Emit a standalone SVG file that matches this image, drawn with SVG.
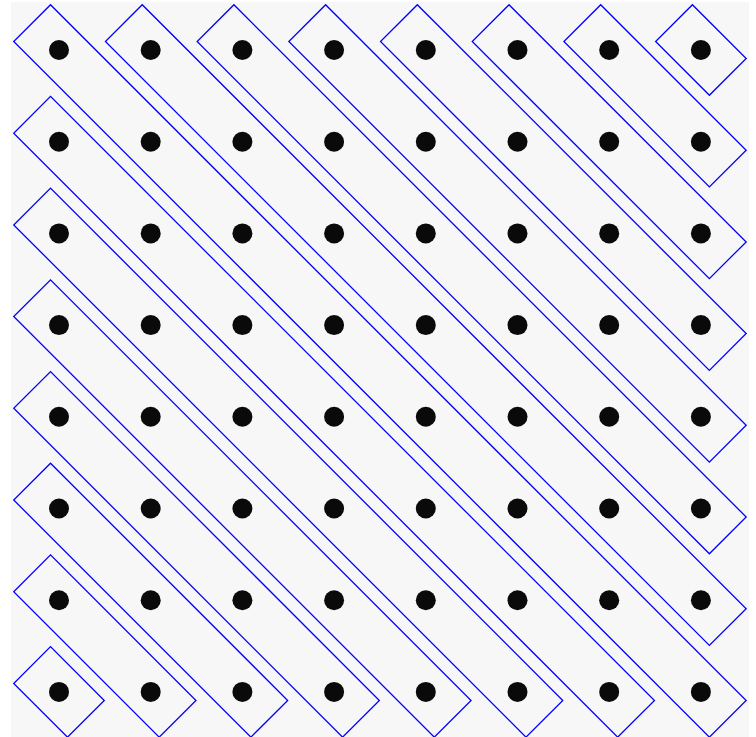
<svg xmlns="http://www.w3.org/2000/svg" width="756" height="737" viewBox="0 0 756 737">
<style>
.band{fill:none;stroke:#0000ff;stroke-width:1.3}
.dot{fill:#0a0a0a}
</style>
<rect x="0" y="0" width="756" height="737" fill="#ffffff"/>
<rect x="11" y="2" width="738" height="735" fill="#f7f7f7"/>
<g id="bands">
<g id="band-m7"><rect class="band" transform="translate(59,691.9) rotate(45)" x="-38" y="-26" width="76" height="52"/></g>
<g id="band-m6"><rect class="band" transform="translate(104.85,646.05) rotate(45)" x="-102.84" y="-26" width="205.68" height="52"/></g>
<g id="band-m5"><rect class="band" transform="translate(150.7,600.2) rotate(45)" x="-167.68" y="-26" width="335.36" height="52"/></g>
<g id="band-m4"><rect class="band" transform="translate(196.55,554.35) rotate(45)" x="-232.52" y="-26" width="465.04" height="52"/></g>
<g id="band-m3"><rect class="band" transform="translate(242.4,508.5) rotate(45)" x="-297.36" y="-26" width="594.72" height="52"/></g>
<g id="band-m2"><rect class="band" transform="translate(288.25,462.65) rotate(45)" x="-362.2" y="-26" width="724.4" height="52"/></g>
<g id="band-m1"><rect class="band" transform="translate(334.1,416.8) rotate(45)" x="-427.04" y="-26" width="854.08" height="52"/></g>
<g id="band-0"><rect class="band" transform="translate(379.95,370.95) rotate(45)" x="-491.88" y="-26" width="983.76" height="52"/></g>
<g id="band-p1"><rect class="band" transform="translate(425.8,325.1) rotate(45)" x="-427.04" y="-26" width="854.08" height="52"/></g>
<g id="band-p2"><rect class="band" transform="translate(471.65,279.25) rotate(45)" x="-362.2" y="-26" width="724.4" height="52"/></g>
<g id="band-p3"><rect class="band" transform="translate(517.5,233.4) rotate(45)" x="-297.36" y="-26" width="594.72" height="52"/></g>
<g id="band-p4"><rect class="band" transform="translate(563.35,187.55) rotate(45)" x="-232.52" y="-26" width="465.04" height="52"/></g>
<g id="band-p5"><rect class="band" transform="translate(609.2,141.7) rotate(45)" x="-167.68" y="-26" width="335.36" height="52"/></g>
<g id="band-p6"><rect class="band" transform="translate(655.05,95.85) rotate(45)" x="-102.84" y="-26" width="205.68" height="52"/></g>
<g id="band-p7"><rect class="band" transform="translate(700.9,50) rotate(45)" x="-38" y="-26" width="76" height="52"/></g>
</g>
<g id="dots">
<g id="r0"><circle class="dot" cx="59" cy="50" r="10"/><circle class="dot" cx="150.7" cy="50" r="10"/><circle class="dot" cx="242.4" cy="50" r="10"/><circle class="dot" cx="334.1" cy="50" r="10"/><circle class="dot" cx="425.8" cy="50" r="10"/><circle class="dot" cx="517.5" cy="50" r="10"/><circle class="dot" cx="609.2" cy="50" r="10"/><circle class="dot" cx="700.9" cy="50" r="10"/></g>
<g id="r1"><circle class="dot" cx="59" cy="141.7" r="10"/><circle class="dot" cx="150.7" cy="141.7" r="10"/><circle class="dot" cx="242.4" cy="141.7" r="10"/><circle class="dot" cx="334.1" cy="141.7" r="10"/><circle class="dot" cx="425.8" cy="141.7" r="10"/><circle class="dot" cx="517.5" cy="141.7" r="10"/><circle class="dot" cx="609.2" cy="141.7" r="10"/><circle class="dot" cx="700.9" cy="141.7" r="10"/></g>
<g id="r2"><circle class="dot" cx="59" cy="233.4" r="10"/><circle class="dot" cx="150.7" cy="233.4" r="10"/><circle class="dot" cx="242.4" cy="233.4" r="10"/><circle class="dot" cx="334.1" cy="233.4" r="10"/><circle class="dot" cx="425.8" cy="233.4" r="10"/><circle class="dot" cx="517.5" cy="233.4" r="10"/><circle class="dot" cx="609.2" cy="233.4" r="10"/><circle class="dot" cx="700.9" cy="233.4" r="10"/></g>
<g id="r3"><circle class="dot" cx="59" cy="325.1" r="10"/><circle class="dot" cx="150.7" cy="325.1" r="10"/><circle class="dot" cx="242.4" cy="325.1" r="10"/><circle class="dot" cx="334.1" cy="325.1" r="10"/><circle class="dot" cx="425.8" cy="325.1" r="10"/><circle class="dot" cx="517.5" cy="325.1" r="10"/><circle class="dot" cx="609.2" cy="325.1" r="10"/><circle class="dot" cx="700.9" cy="325.1" r="10"/></g>
<g id="r4"><circle class="dot" cx="59" cy="416.8" r="10"/><circle class="dot" cx="150.7" cy="416.8" r="10"/><circle class="dot" cx="242.4" cy="416.8" r="10"/><circle class="dot" cx="334.1" cy="416.8" r="10"/><circle class="dot" cx="425.8" cy="416.8" r="10"/><circle class="dot" cx="517.5" cy="416.8" r="10"/><circle class="dot" cx="609.2" cy="416.8" r="10"/><circle class="dot" cx="700.9" cy="416.8" r="10"/></g>
<g id="r5"><circle class="dot" cx="59" cy="508.5" r="10"/><circle class="dot" cx="150.7" cy="508.5" r="10"/><circle class="dot" cx="242.4" cy="508.5" r="10"/><circle class="dot" cx="334.1" cy="508.5" r="10"/><circle class="dot" cx="425.8" cy="508.5" r="10"/><circle class="dot" cx="517.5" cy="508.5" r="10"/><circle class="dot" cx="609.2" cy="508.5" r="10"/><circle class="dot" cx="700.9" cy="508.5" r="10"/></g>
<g id="r6"><circle class="dot" cx="59" cy="600.2" r="10"/><circle class="dot" cx="150.7" cy="600.2" r="10"/><circle class="dot" cx="242.4" cy="600.2" r="10"/><circle class="dot" cx="334.1" cy="600.2" r="10"/><circle class="dot" cx="425.8" cy="600.2" r="10"/><circle class="dot" cx="517.5" cy="600.2" r="10"/><circle class="dot" cx="609.2" cy="600.2" r="10"/><circle class="dot" cx="700.9" cy="600.2" r="10"/></g>
<g id="r7"><circle class="dot" cx="59" cy="691.9" r="10"/><circle class="dot" cx="150.7" cy="691.9" r="10"/><circle class="dot" cx="242.4" cy="691.9" r="10"/><circle class="dot" cx="334.1" cy="691.9" r="10"/><circle class="dot" cx="425.8" cy="691.9" r="10"/><circle class="dot" cx="517.5" cy="691.9" r="10"/><circle class="dot" cx="609.2" cy="691.9" r="10"/><circle class="dot" cx="700.9" cy="691.9" r="10"/></g>
</g>
</svg>
